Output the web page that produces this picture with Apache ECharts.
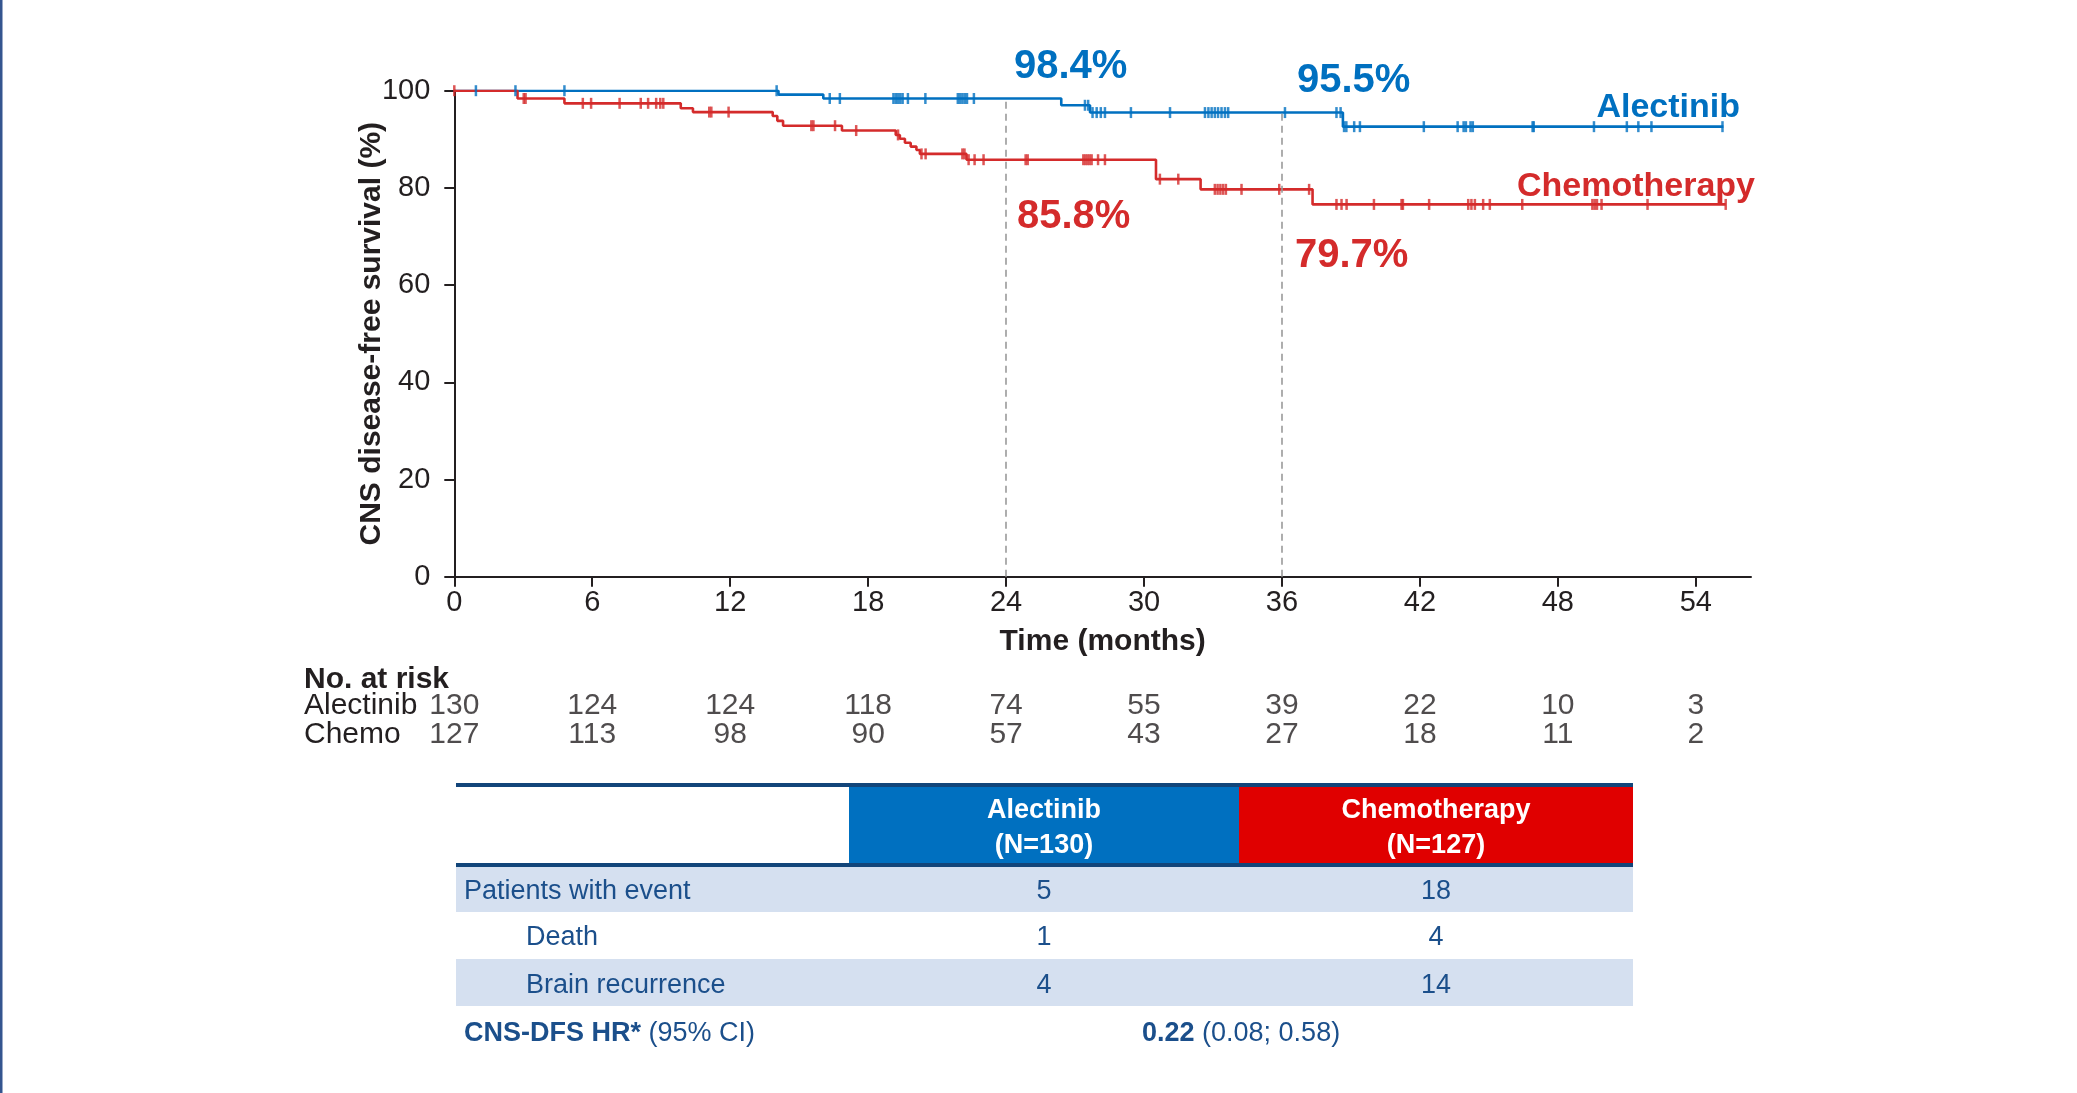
<!DOCTYPE html>
<html><head><meta charset="utf-8">
<script src="https://cdn.jsdelivr.net/npm/echarts@6/dist/echarts.min.js"></script>
<style>html,body{margin:0;padding:0;background:#fff}#c{width:2077px;height:1093px}</style>
</head><body><div id="c"></div>
<script>
// ---------- data ----------
const xTicks = [0, 6, 12, 18, 24, 30, 36, 42, 48, 54];
const yTicks = [0, 20, 40, 60, 80, 100];
// Kaplan-Meier steps: [time (months), survival % after the event]
const alecSteps = [[0,100],[14.1,99.2],[16.05,98.4],[26.4,97.0],[27.65,95.5],[38.65,92.6],[55.2,92.6]];
const chemoSteps = [[0,100],[2.75,98.4],[4.79,97.4],[9.85,96.4],[10.38,95.6],[13.85,94.8],[14.05,93.8],[14.3,92.8],
  [16.86,91.8],[19.2,90.9],[19.38,90.1],[19.6,89.3],[19.85,88.5],[20.1,87.8],[20.25,87.0],[22.28,85.8],
  [30.52,81.8],[32.46,79.7],[37.33,76.6],[55.3,76.6]];
// censoring times (months)
const alecCensor = [0.94,2.66,4.79,14.02,16.33,16.77,19.1,19.2,19.3,19.4,19.5,19.73,20.49,21.9,22.0,22.1,22.2,22.3,22.6,
  27.43,27.57,27.76,27.94,28.12,28.3,29.43,31.13,32.65,32.8,32.94,33.08,33.22,33.37,33.52,33.66,36.13,38.37,38.55,
  38.7,38.8,39.14,39.39,42.17,43.64,43.9,44.0,44.2,44.3,46.9,46.95,49.57,51.0,51.5,52.07,55.16];
const chemoCensor = [0,3.02,3.1,5.59,5.95,7.19,8.11,8.43,8.78,8.96,9.09,11.09,11.18,11.93,15.53,15.62,16.56,17.48,19.3,
  20.32,20.5,22.1,22.19,22.37,22.63,23.02,24.85,24.94,27.36,27.45,27.54,27.63,27.72,28.0,28.3,30.69,31.49,
  33.08,33.2,33.32,33.44,33.56,34.24,35.88,37.18,38.37,38.59,38.81,40.0,41.2,41.26,42.4,44.1,44.24,44.39,
  44.75,45.04,46.45,49.5,49.6,49.7,49.9,51.9,55.3];
const landmarkTimes = [24, 36];
const alecLandmark = [98.4, 95.5];
const chemoLandmark = [85.8, 79.7];
const riskGroups = ['Alectinib', 'Chemo'];
const alecRisk = [130,124,124,118,74,55,39,22,10,3];
const chemoRisk = [127,113,98,90,57,43,27,18,11,2];
const tableCols = ['Alectinib', 'Chemotherapy'];
const tableN = [130, 127];
const rowLabels = ['Patients with event', 'Death', 'Brain recurrence'];
const alecEvents = [5, 1, 4];
const chemoEvents = [18, 4, 14];
const hrValue = '0.22';
const hrCI = '(0.08; 0.58)';

// ---------- styles ----------
const FONT = '"Liberation Sans", Arial, Helvetica, sans-serif';
const BLUE = '#0070C0', RED = '#D42B2B', INK = '#231F20', NAVY = '#12457A', TXT = '#1B4F8B';
const LIGHT = '#D5E0F0';

function survAt(steps, t) { let v = steps[0][1]; for (const s of steps) if (s[0] <= t) v = s[1]; return v; }

const chart = echarts.init(document.getElementById('c'), null, {renderer: 'canvas'});

const gL = 454.3, gR = 2077 - 1751;
const graphic = [];
graphic.push({type:'rect', shape:{x:0,y:0,width:2.5,height:1093}, style:{fill:'#34558F'}});
function txt(x, y, text, font, fill, align, extra) {
  graphic.push(Object.assign({type:'text', x, y, style:{text, font, fill, align: align||'left', verticalAlign:'middle',
    textAlign: align||'left', textVerticalAlign:'middle'}}, extra||{}));
}
// landmark annotations and curve names
txt(1014, 67, alecLandmark[0].toFixed(1) + '%', 'bold 40px ' + FONT, BLUE);
txt(1297, 81, alecLandmark[1].toFixed(1) + '%', 'bold 40px ' + FONT, BLUE);
txt(1017, 217, chemoLandmark[0].toFixed(1) + '%', 'bold 40px ' + FONT, RED);
txt(1295, 256, chemoLandmark[1].toFixed(1) + '%', 'bold 40px ' + FONT, RED);
txt(1740, 108, tableCols[0], 'bold 34px ' + FONT, BLUE, 'right');
txt(1755, 187, tableCols[1], 'bold 34px ' + FONT, RED, 'right');
// No. at risk header
txt(304, 680, 'No. at risk', 'bold 30px ' + FONT, INK);

// ---------- bottom table ----------
const TL = 456, TR = 1633, C1 = 849, C2 = 1239;
graphic.push({type:'rect', shape:{x:TL,y:783,width:TR-TL,height:4}, style:{fill:NAVY}});
graphic.push({type:'rect', shape:{x:C1,y:787,width:C2-C1,height:76}, style:{fill:'#0070C0'}});
graphic.push({type:'rect', shape:{x:C2,y:787,width:TR-C2,height:76}, style:{fill:'#E00000'}});
graphic.push({type:'rect', shape:{x:TL,y:863,width:TR-TL,height:4}, style:{fill:NAVY}});
graphic.push({type:'rect', shape:{x:TL,y:867,width:TR-TL,height:45}, style:{fill:LIGHT}});
graphic.push({type:'rect', shape:{x:TL,y:959,width:TR-TL,height:47}, style:{fill:LIGHT}});
const colCx = [(C1+C2)/2, (C2+TR)/2];
tableCols.forEach((c, i) => {
  txt(colCx[i], 811, c, 'bold 27px ' + FONT, '#fff', 'center');
  txt(colCx[i], 846, '(N=' + tableN[i] + ')', 'bold 27px ' + FONT, '#fff', 'center');
});
const rowY = [892, 938, 986];
rowLabels.forEach((r, i) => {
  txt(i === 0 ? 464 : 526, rowY[i], r, '27px ' + FONT, TXT);
  txt(colCx[0], rowY[i], String(alecEvents[i]), '27px ' + FONT, TXT, 'center');
  txt(colCx[1], rowY[i], String(chemoEvents[i]), '27px ' + FONT, TXT, 'center');
});
graphic.push({type:'text', x:464, y:1034, style:{text:'{b|CNS-DFS HR*}{n| (95% CI)}', fill:TXT, align:'left', verticalAlign:'middle',
  rich:{b:{font:'bold 27px ' + FONT, fill:TXT}, n:{font:'27px ' + FONT, fill:TXT}}}});
graphic.push({type:'text', x:1142, y:1034, style:{text:'{b|' + hrValue + '}{n| ' + hrCI + '}', fill:TXT, align:'left', verticalAlign:'middle',
  rich:{b:{font:'bold 27px ' + FONT, fill:TXT}, n:{font:'27px ' + FONT, fill:TXT}}}});

const axisFont = {fontFamily: FONT, fontSize: 29, color: INK};

const option = {
  animation: false,
  backgroundColor: '#fff',
  grid: [
    {left: gL, right: gR, top: 90.7, bottom: 1093 - 576.7, outerBoundsMode: 'none', containLabel: false},
    {left: gL, right: gR, top: 691.5, height: 57, outerBoundsMode: 'none', containLabel: false}
  ],
  xAxis: [
    {type: 'value', gridIndex: 0, min: 0, max: 56.4, interval: 6,
      name: 'Time (months)', nameLocation: 'middle', nameGap: 50, nameMoveOverlap: false,
      nameTextStyle: {fontFamily: FONT, fontSize: 30, fontWeight: 'bold', color: INK},
      axisLine: {show: true, lineStyle: {color: INK, width: 2}},
      axisTick: {show: true, length: 10, lineStyle: {color: INK, width: 2}, customValues: xTicks},
      axisLabel: Object.assign({margin: 12, customValues: xTicks,
        formatter: v => (xTicks.indexOf(v) >= 0 ? String(v) : '')}, axisFont),
      splitLine: {show: false}},
    {type: 'value', gridIndex: 1, min: 0, max: 56.4, show: false}
  ],
  yAxis: [
    {type: 'value', gridIndex: 0, min: 0, max: 100, interval: 20,
      name: 'CNS disease-free survival (%)', nameLocation: 'middle', nameGap: 68, nameRotate: 90, nameMoveOverlap: false,
      nameTextStyle: {fontFamily: FONT, fontSize: 30, fontWeight: 'bold', color: INK},
      axisLine: {show: true, lineStyle: {color: INK, width: 2}},
      axisTick: {show: true, length: 10, lineStyle: {color: INK, width: 2}},
      axisLabel: Object.assign({margin: 24}, axisFont),
      splitLine: {show: false}},
    {type: 'category', gridIndex: 1, data: riskGroups.slice().reverse(),
      axisLine: {show: false}, axisTick: {show: false}, splitLine: {show: false},
      axisLabel: {interval: 0, hideOverlap: false, margin: gL - 304, align: 'left', fontFamily: FONT, fontSize: 30, color: INK}}
  ],
  series: [
    {type: 'line', name: 'Alectinib', xAxisIndex: 0, yAxisIndex: 0, step: 'end', showSymbol: false, z: 3,
      data: alecSteps, lineStyle: {color: BLUE, width: 2.6}, itemStyle: {color: BLUE},
      markLine: {silent: true, symbol: 'none', label: {show: false},
        lineStyle: {color: '#9A9A9A', type: [7, 5], width: 1.6},
        data: landmarkTimes.map((t, i) => [{coord: [t, 0]}, {coord: [t, alecLandmark[i]]}])}},
    {type: 'line', name: 'Chemotherapy', xAxisIndex: 0, yAxisIndex: 0, step: 'end', showSymbol: false, z: 4,
      data: chemoSteps, lineStyle: {color: RED, width: 2.6}, itemStyle: {color: RED}},
    {type: 'scatter', xAxisIndex: 0, yAxisIndex: 0, symbol: 'rect', symbolSize: [2.5, 11], z: 5,
      itemStyle: {color: BLUE}, data: alecCensor.map(t => [t, survAt(alecSteps, t)])},
    {type: 'scatter', xAxisIndex: 0, yAxisIndex: 0, symbol: 'rect', symbolSize: [2.5, 11], z: 6,
      itemStyle: {color: RED}, data: chemoCensor.map(t => [t, survAt(chemoSteps, t)])},
    {type: 'scatter', xAxisIndex: 1, yAxisIndex: 1, symbolSize: 2, itemStyle: {color: 'rgba(0,0,0,0)'},
      labelLayout: {hideOverlap: false},
      label: {show: true, position: 'inside', formatter: p => String(p.value[2]), fontFamily: FONT, fontSize: 30, color: INK},
      data: xTicks.map((t, i) => [t, riskGroups[0], alecRisk[i]]).concat(xTicks.map((t, i) => [t, riskGroups[1], chemoRisk[i]]))}
  ],
  graphic: graphic
};
chart.setOption(option);
</script>
</body></html>
